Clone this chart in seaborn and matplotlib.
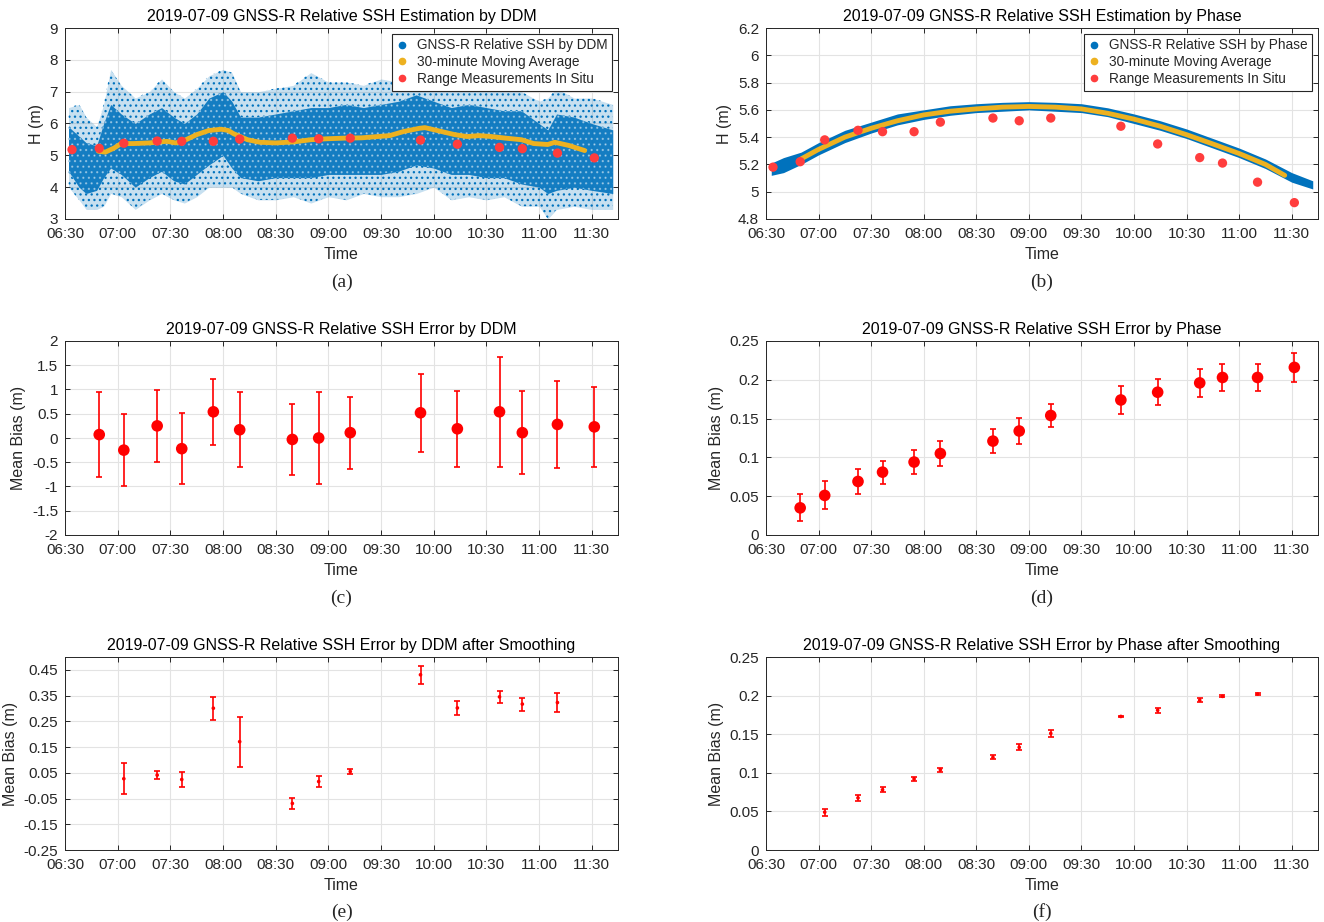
import numpy as np
import pandas as pd
import matplotlib
matplotlib.use("Agg")
import matplotlib.pyplot as plt
import matplotlib.dates as mdates
from matplotlib.lines import Line2D
import seaborn as sns

DAY = "2019-07-09 "

# ---- time axis -------------------------------------------------------------
tick_labels = ["06:30", "07:00", "07:30", "08:00", "08:30", "09:00",
               "09:30", "10:00", "10:30", "11:00", "11:30"]
x_range = ["06:30", "11:45"]

# ---- in-situ range measurements -------------------------------------------
insitu_time = ["06:34:00", "06:49:30", "07:03:30", "07:22:30", "07:36:30",
               "07:54:30", "08:09:30", "08:39:30", "08:54:30", "09:12:30",
               "09:52:30", "10:13:30", "10:37:30", "10:50:30", "11:10:30",
               "11:31:30"]
insitu_h = [5.18, 5.22, 5.38, 5.45, 5.44, 5.44, 5.51, 5.54, 5.52, 5.54,
            5.48, 5.35, 5.25, 5.21, 5.07, 4.92]

# ---- DDM retrievals: spread of the cloud (outer and dense core) -----------
ddm_cloud_time = ["06:32", "06:38", "06:42", "06:48", "06:52", "06:56", "07:02",
                  "07:10", "07:18", "07:25", "07:32", "07:38", "07:45", "07:52",
                  "08:00", "08:05", "08:10", "08:20", "08:30", "08:40", "08:50",
                  "09:00", "09:10", "09:20", "09:30", "09:40", "09:50", "10:00",
                  "10:10", "10:20", "10:30", "10:40", "10:50", "11:00", "11:05",
                  "11:10", "11:20", "11:30", "11:42"]
ddm_outer_lo = [4.0, 3.6, 3.3, 3.3, 3.4, 3.8, 3.7, 3.3, 3.6, 3.8, 3.6, 3.5, 3.7,
                4.0, 4.0, 4.0, 3.8, 3.6, 3.6, 3.7, 3.5, 3.7, 3.6, 3.8, 3.7, 3.7,
                3.8, 4.0, 3.6, 3.7, 3.6, 3.7, 3.4, 3.4, 3.0, 3.3, 3.4, 3.3, 3.3]
ddm_core_lo = [4.5, 4.0, 3.8, 3.9, 4.3, 4.6, 4.4, 4.0, 4.3, 4.5, 4.2, 4.1, 4.4,
               4.7, 5.0, 4.6, 4.3, 4.2, 4.3, 4.3, 4.3, 4.4, 4.4, 4.4, 4.4, 4.5,
               4.7, 4.6, 4.4, 4.4, 4.3, 4.3, 4.1, 4.0, 3.8, 3.9, 4.0, 3.9, 3.8]
ddm_core_hi = [5.9, 5.6, 5.4, 5.3, 6.0, 6.6, 6.3, 6.0, 6.3, 6.5, 6.2, 6.0, 6.3,
               6.8, 7.0, 6.7, 6.2, 6.2, 6.3, 6.4, 6.5, 6.5, 6.6, 6.5, 6.6, 6.7,
               6.9, 6.7, 6.5, 6.6, 6.5, 6.4, 6.4, 6.0, 5.8, 6.3, 6.2, 6.0, 5.8]
ddm_outer_hi = [6.5, 6.6, 6.2, 5.9, 6.6, 7.7, 7.2, 6.8, 7.0, 7.4, 7.0, 6.8, 7.1,
                7.5, 7.7, 7.6, 7.0, 7.0, 7.1, 7.2, 7.6, 7.3, 7.3, 7.2, 7.4, 7.3,
                7.4, 7.2, 7.0, 7.2, 7.1, 7.0, 7.0, 6.7, 6.8, 7.1, 6.8, 6.8, 6.6]

ddm_ma_time = ["06:49", "06:53", "06:58", "07:02", "07:09", "07:18", "07:28",
               "07:33", "07:37", "07:45", "07:52", "07:59", "08:03", "08:06",
               "08:14", "08:21", "08:30", "08:40", "08:50", "08:59", "09:09",
               "09:19", "09:28", "09:35", "09:43", "09:52", "09:55", "10:02",
               "10:12", "10:19", "10:26", "10:33", "10:41", "10:50", "10:57",
               "11:05", "11:09", "11:17", "11:26"]
ddm_ma_h = [5.13, 5.10, 5.23, 5.37, 5.37, 5.39, 5.44, 5.39, 5.44, 5.65, 5.78,
            5.82, 5.78, 5.68, 5.49, 5.41, 5.39, 5.42, 5.49, 5.52, 5.54, 5.55,
            5.59, 5.62, 5.75, 5.85, 5.87, 5.78, 5.65, 5.59, 5.62, 5.59, 5.54,
            5.49, 5.37, 5.34, 5.41, 5.31, 5.15]

# ---- phase retrievals ------------------------------------------------------
phase_cloud_time = ["06:33", "06:40", "06:50", "07:00", "07:15", "07:30", "07:45",
                    "08:00", "08:15", "08:30", "08:45", "09:00", "09:15", "09:30",
                    "09:45", "10:00", "10:15", "10:30", "10:45", "11:00", "11:15",
                    "11:30", "11:42"]
phase_cloud_lo = [5.12, 5.14, 5.20, 5.27, 5.36, 5.43, 5.49, 5.53, 5.56, 5.58,
                  5.59, 5.60, 5.59, 5.58, 5.55, 5.50, 5.45, 5.39, 5.32, 5.25,
                  5.17, 5.07, 5.02]
phase_cloud_hi = [5.21, 5.25, 5.29, 5.36, 5.45, 5.51, 5.57, 5.60, 5.63, 5.645,
                  5.655, 5.66, 5.655, 5.645, 5.615, 5.57, 5.52, 5.46, 5.39, 5.32,
                  5.24, 5.14, 5.08]

phase_ma_time = ["06:50", "07:00", "07:15", "07:30", "07:45", "08:00", "08:15",
                 "08:30", "08:45", "09:00", "09:15", "09:30", "09:45", "10:00",
                 "10:15", "10:30", "10:45", "11:00", "11:15", "11:26"]
phase_ma_h = [5.24, 5.31, 5.40, 5.465, 5.52, 5.563, 5.59, 5.607, 5.62, 5.625,
              5.62, 5.607, 5.575, 5.532, 5.48, 5.418, 5.35, 5.28, 5.20, 5.12]

# ---- error statistics against the in-situ ranges ---------------------------
err_time = insitu_time[1:]
ddm_bias = [0.07, -0.25, 0.25, -0.22, 0.54, 0.17, -0.03, 0.0, 0.11, 0.52,
            0.19, 0.54, 0.11, 0.28, 0.23]
ddm_std = [0.88, 0.75, 0.74, 0.73, 0.68, 0.77, 0.74, 0.94, 0.74, 0.80,
           0.78, 1.14, 0.85, 0.89, 0.83]
phase_bias = [0.035, 0.051, 0.069, 0.081, 0.094, 0.105, 0.121, 0.134, 0.154,
              0.174, 0.184, 0.196, 0.203, 0.203, 0.216]
phase_std = [0.0175, 0.018, 0.016, 0.015, 0.016, 0.0165, 0.015, 0.017, 0.015,
             0.018, 0.017, 0.018, 0.018, 0.017, 0.019]

smooth_time = insitu_time[2:15]
ddm_smooth_bias = [0.027, 0.041, 0.024, 0.301, 0.171, -0.069, 0.016, 0.055,
                   0.431, 0.302, 0.345, 0.317, 0.323]
ddm_smooth_std = [0.060, 0.016, 0.031, 0.044, 0.097, 0.022, 0.020, 0.0105,
                  0.034, 0.026, 0.022, 0.025, 0.037]
phase_smooth_bias = [0.049, 0.0675, 0.078, 0.092, 0.104, 0.120, 0.133, 0.151,
                     0.173, 0.181, 0.194, 0.199, 0.202]
phase_smooth_std = [0.0045, 0.0035, 0.003, 0.003, 0.0028, 0.0025, 0.004, 0.004,
                    0.0008, 0.003, 0.0025, 0.0012, 0.001]

# ---- y axes -----------------------------------------------------------------
h_ddm_ticks = ["3", "4", "5", "6", "7", "8", "9"]
h_phase_ticks = ["4.8", "5", "5.2", "5.4", "5.6", "5.8", "6", "6.2"]
bias_ddm_ticks = ["-2", "-1.5", "-1", "-0.5", "0", "0.5", "1", "1.5", "2"]
bias_phase_ticks = ["0", "0.05", "0.1", "0.15", "0.2", "0.25"]
bias_smooth_ticks = ["-0.25", "-0.15", "-0.05", "0.05", "0.15", "0.25", "0.35", "0.45"]

BLUE = "#0072BD"
ORANGE = "#EDB120"
INSITU_RED = "#FF3D3D"
RED = "#FF0000"
INK = "#262626"


def dt(values):
    return pd.to_datetime([DAY + v for v in values])


sns.set_theme(style="white")
plt.rcParams.update({
    "font.family": ["Liberation Sans", "DejaVu Sans"],
    "axes.edgecolor": INK,
    "axes.linewidth": 0.7,
    "axes.facecolor": "white",
    "xtick.direction": "in",
    "ytick.direction": "in",
    "xtick.top": True,
    "ytick.right": True,
    "xtick.bottom": True,
    "ytick.left": True,
    "xtick.major.size": 3.5,
    "ytick.major.size": 3.5,
    "xtick.major.width": 0.7,
    "ytick.major.width": 0.7,
    "xtick.major.pad": 6,
    "ytick.major.pad": 5,
    "xtick.color": INK,
    "ytick.color": INK,
    "xtick.labelsize": 11,
    "ytick.labelsize": 11,
    "axes.labelsize": 11.5,
    "axes.labelcolor": INK,
    "axes.titlesize": 11.5,
    "grid.color": "#E3E3E3",
    "grid.linewidth": 0.8,
    "hatch.linewidth": 0.9,
})

fig = plt.figure(figsize=(13.24, 9.22), dpi=100)
W, H = 1324.0, 922.0
cols = [(65, 618), (766, 1318)]
rows = [(28, 219), (341, 535), (657, 850)]
letter_y = [282, 598, 912]


def make_axes(r, c):
    x0, x1 = cols[c]
    y0, y1 = rows[r]
    return fig.add_axes([x0 / W, 1 - y1 / H, (x1 - x0) / W, (y1 - y0) / H])


def style_axes(ax, ticks, ylabel, title, ylim, letter, r, c):
    ax.set_xlim(dt(x_range))
    ax.set_xticks(dt(tick_labels), labels=tick_labels)
    ax.set_ylim(*ylim)
    ax.set_yticks([float(t) for t in ticks], labels=ticks)
    ax.grid(True)
    ax.set_axisbelow(True)
    ax.set_xlabel("Time", labelpad=4)
    ax.set_ylabel(ylabel, labelpad=4)
    ax.set_title(title, pad=5, color="black")
    ax.tick_params(which="both", top=True, right=True)
    x0, x1 = cols[c]
    fig.text((x0 + x1) / 2 / W, 1 - letter_y[r] / H, letter,
             family="Liberation Serif", fontsize=14, ha="center", va="center")


def legend_handles(first):
    return [
        Line2D([], [], ls="none", marker="o", ms=4.5, color=BLUE, label=first),
        Line2D([], [], ls="none", marker="o", ms=4.5, color=ORANGE,
               label="30-minute Moving Average"),
        Line2D([], [], ls="none", marker="o", ms=4.5, color=INSITU_RED,
               label="Range Measurements In Situ"),
    ]


def add_legend(ax, first):
    leg = ax.legend(handles=legend_handles(first), loc="upper right",
                    bbox_to_anchor=(0.99, 0.97), fontsize=9.8, frameon=True,
                    fancybox=False, framealpha=1, edgecolor=INK,
                    handlelength=0.8, handletextpad=0.7, borderpad=0.35,
                    labelspacing=0.2, borderaxespad=0.0)
    leg.get_frame().set_linewidth(0.8)


# (a) DDM estimation: sparse outer spread, dense core, moving average, in situ
ax = make_axes(0, 0)
tc = dt(ddm_cloud_time)
ax.fill_between(tc, ddm_outer_lo, ddm_outer_hi, facecolor=BLUE, alpha=0.22,
                linewidth=0, zorder=2)
ax.fill_between(tc, ddm_outer_lo, ddm_outer_hi, facecolor="none", edgecolor=BLUE,
                hatch="...", linewidth=0, zorder=2)
ax.fill_between(tc, ddm_core_lo, ddm_core_hi, facecolor=BLUE, alpha=0.9,
                linewidth=0, zorder=3)
ax.fill_between(tc, ddm_core_lo, ddm_core_hi, facecolor="none", edgecolor="white",
                hatch="...", linewidth=0, alpha=0.45, zorder=3)
sns.lineplot(x=dt(ddm_ma_time), y=ddm_ma_h, color=ORANGE, lw=3.5, ax=ax,
             zorder=4, sort=False)
sns.scatterplot(x=dt(insitu_time), y=insitu_h, color=INSITU_RED, s=45,
                edgecolor="none", ax=ax, zorder=5)
style_axes(ax, h_ddm_ticks, "H (m)", "2019-07-09 GNSS-R Relative SSH Estimation by DDM",
           (3, 9), "(a)", 0, 0)
add_legend(ax, "GNSS-R Relative SSH by DDM")

# (b) phase estimation
ax = make_axes(0, 1)
ax.fill_between(dt(phase_cloud_time), phase_cloud_lo, phase_cloud_hi,
                facecolor=BLUE, linewidth=0, zorder=2)
sns.lineplot(x=dt(phase_ma_time), y=phase_ma_h, color=ORANGE, lw=3.5, ax=ax,
             zorder=4, sort=False)
sns.scatterplot(x=dt(insitu_time), y=insitu_h, color=INSITU_RED, s=45,
                edgecolor="none", ax=ax, zorder=5)
style_axes(ax, h_phase_ticks, "H (m)", "2019-07-09 GNSS-R Relative SSH Estimation by Phase",
           (4.8, 6.2), "(b)", 0, 1)
add_legend(ax, "GNSS-R Relative SSH by Phase")


def error_panel(r, c, times, bias, std, ticks, ylim, title, letter, big):
    ax = make_axes(r, c)
    x = dt(times)
    ax.errorbar(x, bias, yerr=std, fmt="none", ecolor=RED,
                elinewidth=1.2, capsize=2.2 if big else 2.5, capthick=1.2, zorder=3)
    sns.scatterplot(x=x, y=bias, color=RED, s=70 if big else 7,
                    edgecolor="none", ax=ax, zorder=4)
    style_axes(ax, ticks, "Mean Bias (m)", title, ylim, letter, r, c)


error_panel(1, 0, err_time, ddm_bias, ddm_std, bias_ddm_ticks, (-2, 2),
            "2019-07-09 GNSS-R Relative SSH Error by DDM", "(c)", True)
error_panel(1, 1, err_time, phase_bias, phase_std, bias_phase_ticks, (0, 0.25),
            "2019-07-09 GNSS-R Relative SSH Error by Phase", "(d)", True)
error_panel(2, 0, smooth_time, ddm_smooth_bias, ddm_smooth_std, bias_smooth_ticks,
            (-0.25, 0.5), "2019-07-09 GNSS-R Relative SSH Error by DDM after Smoothing",
            "(e)", False)
error_panel(2, 1, smooth_time, phase_smooth_bias, phase_smooth_std, bias_phase_ticks,
            (0, 0.25), "2019-07-09 GNSS-R Relative SSH Error by Phase after Smoothing",
            "(f)", False)

fig.savefig("out.png", dpi=100, facecolor="white")
